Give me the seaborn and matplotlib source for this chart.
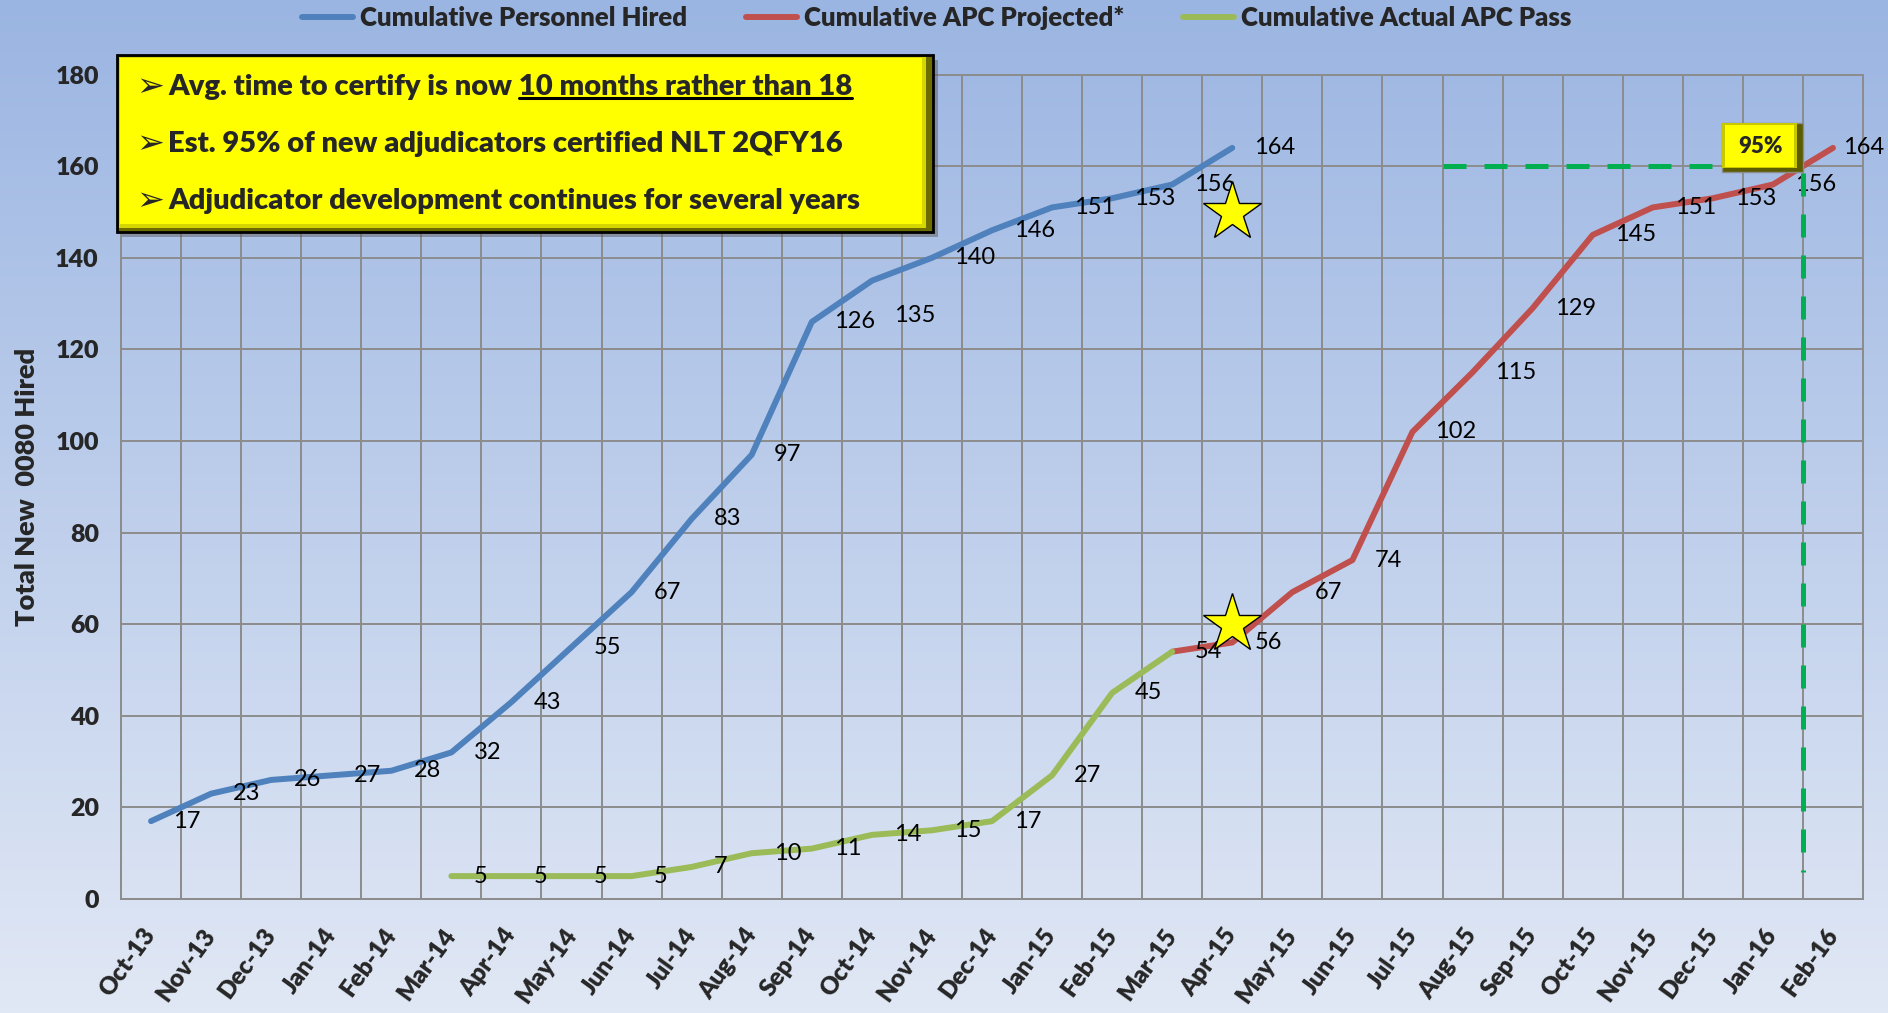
import numpy as np
import pandas as pd
import seaborn as sns
import matplotlib.pyplot as plt
from matplotlib.patches import Rectangle
from matplotlib.lines import Line2D
from matplotlib.colors import LinearSegmentedColormap

months = ["Oct-13", "Nov-13", "Dec-13", "Jan-14", "Feb-14", "Mar-14", "Apr-14", "May-14",
          "Jun-14", "Jul-14", "Aug-14", "Sep-14", "Oct-14", "Nov-14", "Dec-14", "Jan-15",
          "Feb-15", "Mar-15", "Apr-15", "May-15", "Jun-15", "Jul-15", "Aug-15", "Sep-15",
          "Oct-15", "Nov-15", "Dec-15", "Jan-16", "Feb-16"]
hired = [17, 23, 26, 27, 28, 32, 43, 55, 67, 83, 97, 126, 135, 140, 146, 151, 153, 156, 164]
actual = [5, 5, 5, 5, 7, 10, 11, 14, 15, 17, 27, 45, 54]
projected = [54, 56, 67, 74, 102, 115, 129, 145, 151, 153, 156, 164]
hired_start = "Oct-13"
actual_start = "Mar-14"
projected_start = "Mar-15"
series_names = ["Cumulative Personnel Hired", "Cumulative APC Projected*", "Cumulative Actual APC Pass"]
series_colors = ["#4F81BD", "#C0504D", "#9BBB59"]
star_month = "Apr-15"
star_values = [150, 60]
target_value = 160
target_from = "Aug-15"
target_to = "Feb-16"
target_label = "95%"
notes = ["Avg. time to certify is now 10 months rather than 18",
         "Est. 95% of new adjudicators certified NLT 2QFY16",
         "Adjudicator development continues for several years"]
underlined = "10 months rather than 18"

sns.set_style("white")
plt.rcParams['font.family'] = ['Lato', 'DejaVu Sans']
HEAVY = "heavy"

pos = {m: i for i, m in enumerate(months)}


def frame(vals, start, name):
    i0 = pos[start]
    return pd.DataFrame({"pos": range(i0, i0 + len(vals)), "value": vals, "series": name})


df = pd.concat([frame(hired, hired_start, series_names[0]),
                frame(projected, projected_start, series_names[1]),
                frame(actual, actual_start, series_names[2])], ignore_index=True)

W, H = 1888, 1013
fig = plt.figure(figsize=(W / 100, H / 100), dpi=100)

# background gradient
bg = fig.add_axes([0, 0, 1, 1], zorder=-5)
grad = np.linspace(0, 1, 256).reshape(-1, 1)
cmap = LinearSegmentedColormap.from_list("bg", ["#E1E8F5", "#9BB5E2"])
bg.imshow(grad, aspect="auto", extent=[0, 1, 0, 1], origin="lower", cmap=cmap)
bg.axis("off")

ax = fig.add_axes([121 / W, 1 - 899 / H, 1742 / W, 824.4 / H])
ax.set_facecolor("none")

grid_c = "#8C8C8C"
ax.set_xlim(-0.5, len(months) - 0.5)
ax.set_ylim(0, 180)
ax.set_yticks(range(0, 181, 20))
ax.set_xticks(np.arange(len(months)))
ax.set_xticklabels(months, rotation=54, ha="right", va="center", rotation_mode="anchor",
                   fontweight=HEAVY, fontsize=17.5)
ax.set_xticks(np.arange(-0.5, len(months), 1), minor=True)
ax.tick_params(axis="x", which="major", length=0, pad=23)
ax.tick_params(axis="x", which="minor", length=6, width=1.4, color=grid_c)
ax.tick_params(axis="y", length=5, width=1.4, color=grid_c, pad=11, labelsize=18)
for t in ax.get_yticklabels():
    t.set_fontweight(HEAVY)
ax.grid(which="minor", axis="x", color=grid_c, lw=1.4)
ax.grid(which="major", axis="y", color=grid_c, lw=1.4)
ax.grid(which="major", axis="x", visible=False)
for s in ax.spines.values():
    s.set_color(grid_c)
    s.set_linewidth(1.4)
ax.set_axisbelow(True)

sns.lineplot(data=df, x="pos", y="value", hue="series", palette=dict(zip(series_names, series_colors)),
             hue_order=series_names, linewidth=4.3, legend=False, sort=False, ax=ax)
ax.set_xlabel("")
ax.set_ylabel("Total New  0080 Hired", fontweight=HEAVY, fontsize=19.5)
ax.yaxis.set_label_coords(-0.047, 0.5)

# data labels
last = len(months) - 1
for name in series_names:
    sub = df[df.series == name]
    for k, (p, v) in enumerate(zip(sub.pos, sub.value)):
        if name == series_names[1] and k == 0:
            continue
        dy = -25 if (name == series_names[0] and v == 135) else 0
        dx = 7 if p == last else 16
        ax.annotate(str(v), (p, v), xytext=(dx, dy), textcoords="offset points",
                    ha="left", va="center", fontsize=17, color="black")

# target lines
x_h0 = pos[target_from] - 0.5
x_v = pos[target_to] - 0.5
box_w = 1.34
ax.plot([x_h0, x_v - box_w], [target_value, target_value], color="#00B050", lw=3.6,
        dashes=(4.6, 3.6), dash_capstyle="butt", zorder=3)
ax.plot([x_v, x_v], [target_value - 1.5, 6], color="#00B050", lw=3.6,
        dashes=(4.6, 3.6), dash_capstyle="butt", zorder=3)

# 95% box
bx0, by0, bh = x_v - box_w, target_value - 1.3, 10.7
ax.add_patch(Rectangle((bx0, by0), box_w, bh, facecolor="#5C5C00", edgecolor="#8C8C8C", lw=1, zorder=6))
ax.add_patch(Rectangle((bx0, by0 + 0.9), box_w - 0.1, bh - 0.9, facecolor="#C8C800", lw=0, zorder=6))
ax.add_patch(Rectangle((bx0 + 0.05, by0 + 1.2), box_w - 0.2, bh - 1.6, facecolor="#FFFF00", lw=0, zorder=6))
ax.text(bx0 + box_w / 2 - 0.03, by0 + bh / 2 + 0.3, target_label, ha="center", va="center",
        fontsize=16, fontweight=HEAVY, zorder=7)

# stars
ax.plot([pos[star_month]] * len(star_values), star_values, ls="none", marker="*", ms=44,
        mfc="#FFFF00", mec="black", mew=1, zorder=8)

# legend
handles = [Line2D([], [], color=c, lw=4.3) for c in series_colors]
fig.legend(handles, series_names, loc="center", bbox_to_anchor=(0.496, 1 - 18 / H), ncol=3,
           frameon=False, prop={"weight": HEAVY, "size": 18.5}, handlelength=2.0,
           handletextpad=0.25, columnspacing=2.3)

# note box
fx0, fy0, fx1, fy1 = 117 / W, 1 - 232 / H, 933 / W, 1 - 55 / H
fig.add_artist(Rectangle((fx0 + 5 / W, fy0 - 5 / H), fx1 - fx0, fy1 - fy0, transform=fig.transFigure,
                         facecolor="#555555", alpha=0.45, lw=0))
fig.add_artist(Rectangle((fx0, fy0), fx1 - fx0, fy1 - fy0, transform=fig.transFigure,
                         facecolor="#6E6E00", edgecolor="black", lw=2))
fig.add_artist(Rectangle((fx0 + 2 / W, fy0 + 4 / H), fx1 - fx0 - 9 / W, fy1 - fy0 - 6 / H,
                         transform=fig.transFigure, facecolor="#D6D600", lw=0))
fig.add_artist(Rectangle((fx0 + 3 / W, fy0 + 8 / H), fx1 - fx0 - 14 / W, fy1 - fy0 - 11 / H,
                         transform=fig.transFigure, facecolor="#FFFF00", lw=0))

line_y = [1 - 87 / H, 1 - 144 / H, 1 - 201 / H]
texts = []
for yy, note in zip(line_y, notes):
    fig.text(136 / W, yy, "\u27a2", ha="left", va="center", fontsize=24, family=["DejaVu Sans"])
    texts.append(fig.text(168 / W, yy, note, ha="left", va="center", fontsize=21, fontweight=HEAVY))

r = fig.canvas.get_renderer()
bb = texts[0].get_window_extent(r)
tmp = fig.text(0, 0, underlined, fontsize=21, fontweight=HEAVY)
uw = tmp.get_window_extent(r).width
tmp.remove()
uy = (bb.y0 + 1.5) / H
fig.add_artist(Line2D([(bb.x1 - uw) / W, bb.x1 / W], [uy, uy], transform=fig.transFigure,
                      color="black", lw=2.2))

fig.savefig("out.png", dpi=100)
